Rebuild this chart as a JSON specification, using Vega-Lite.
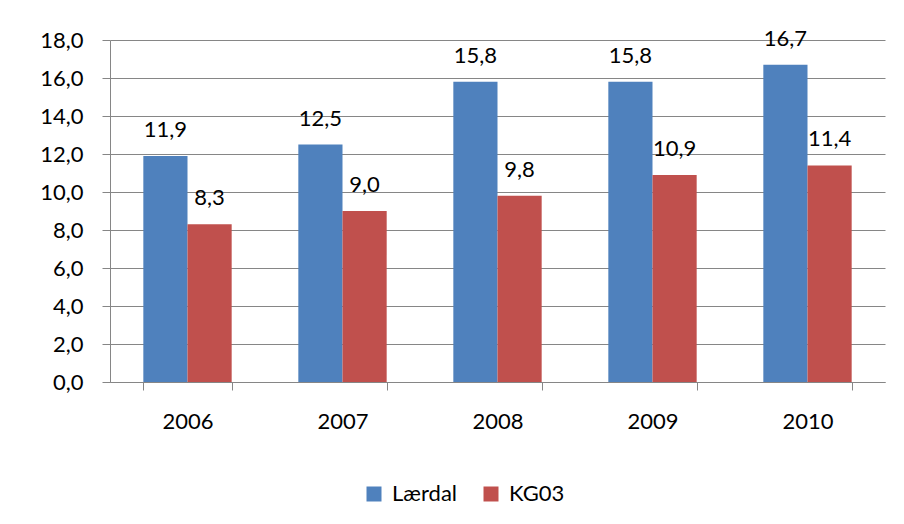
{
  "$schema": "https://vega.github.io/schema/vega-lite/v6.json",
  "width": 775,
  "height": 342,
  "autosize": "none",
  "padding": {"left": 110, "top": 40, "right": 19, "bottom": 142},
  "background": "white",
  "config": {
    "locale": {"number": {"decimal": ",", "thousands": ".", "grouping": [3], "currency": ["", " kr"]}},
    "view": {"stroke": null},
    "font": "Lato"
  },
  "data": {
    "values": [
      {"year": "2006", "series": "Lærdal", "value": 11.9},
      {"year": "2006", "series": "KG03", "value": 8.3},
      {"year": "2007", "series": "Lærdal", "value": 12.5},
      {"year": "2007", "series": "KG03", "value": 9.0},
      {"year": "2008", "series": "Lærdal", "value": 15.8},
      {"year": "2008", "series": "KG03", "value": 9.8},
      {"year": "2009", "series": "Lærdal", "value": 15.8},
      {"year": "2009", "series": "KG03", "value": 10.9},
      {"year": "2010", "series": "Lærdal", "value": 16.7},
      {"year": "2010", "series": "KG03", "value": 11.4}
    ]
  },
  "encoding": {
    "x": {
      "field": "year",
      "type": "nominal",
      "scale": {"paddingInner": 0.43, "paddingOuter": 0.215},
      "axis": {
        "title": null,
        "labelAngle": 0,
        "tickBand": "extent",
        "tickSize": 8,
        "tickColor": "#868686",
        "domainColor": "#868686",
        "labelFontSize": 22,
        "labelColor": "#000000",
        "labelPadding": 21,
        "grid": false
      }
    },
    "xOffset": {"field": "series", "type": "nominal", "sort": ["Lærdal", "KG03"], "scale": {"paddingInner": 0, "paddingOuter": 0}},
    "y": {
      "field": "value",
      "type": "quantitative",
      "scale": {"domain": [0, 18], "nice": false},
      "axis": {
        "title": null,
        "values": [0, 2, 4, 6, 8, 10, 12, 14, 16, 18],
        "format": ".1f",
        "tickSize": 8,
        "tickColor": "#868686",
        "domainColor": "#868686",
        "gridColor": "#868686",
        "labelFontSize": 22,
        "labelColor": "#000000",
        "labelPadding": 19
      }
    }
  },
  "layer": [
    {
      "mark": {"type": "bar"},
      "encoding": {
        "color": {
          "field": "series",
          "type": "nominal",
          "scale": {"domain": ["Lærdal", "KG03"], "range": ["#4F81BD", "#C0504D"]},
          "legend": {
            "orient": "none",
            "legendX": 253,
            "legendY": 443,
            "direction": "horizontal",
            "title": null,
            "symbolType": "square",
            "symbolSize": 225,
            "symbolStrokeWidth": 0,
            "labelFontSize": 22,
            "labelColor": "#000000",
            "labelOffset": 7,
            "columnPadding": 22,
            "padding": 0
          }
        }
      }
    },
    {
      "mark": {"type": "text", "dy": -19, "baseline": "alphabetic", "fontSize": 22, "font": "Lato", "color": "#000000"},
      "encoding": {
        "text": {"field": "value", "type": "quantitative", "format": ".1f"}
      }
    }
  ]
}
